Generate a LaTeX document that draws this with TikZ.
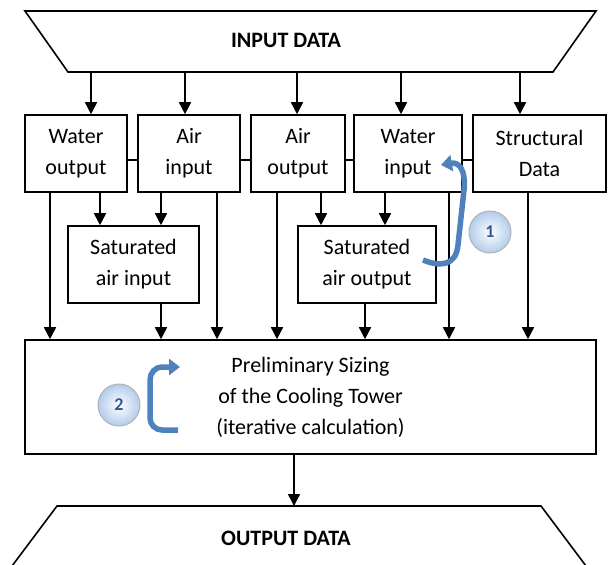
\documentclass[tikz,border=0pt]{standalone}
\usepackage{fontspec}
\setmainfont{Carlito}
\usetikzlibrary{arrows.meta}
\definecolor{loopblue}{RGB}{79,129,189}
\definecolor{numblue}{RGB}{50,88,148}
\tikzset{
    every node/.style={align=center, inner sep=0pt,
    	font=\fontsize{22}{31}\selectfont}
}
\tikzset{
    blk/.style={draw, line width=1.6pt, minimum height=77pt},
    arr/.style={line width=1.6pt, -{Triangle[width=12pt,length=12pt]}},
    loop arrow/.style={loopblue, line width=5.5pt, line cap=butt,
    	-{Triangle[width=16pt,length=11pt]}},
    marker/.style={circle, draw=gray!60, line width=1pt, minimum size=42pt,
    	inner color=white, outer color={rgb,255:red,178;green,204;blue,235},
    	text=numblue, font=\fontsize{18}{20}\selectfont\bfseries}
}

\begin{document}
\begin{tikzpicture}[x=1pt,y=-1pt]
  \useasboundingbox (0,0) rectangle (608,565);

  % input / output trapezia
  \draw[line width=1.6pt] (25,11) -- (596,11) -- (553,72) coordinate (inbr)
    -- (68,72) coordinate (inbl) -- cycle;
  \node (inp) at (286,40) {\bfseries INPUT DATA};

  \draw[line width=1.6pt] (12,566) -- (57,506) coordinate (outtl) -- (541,506)
    -- (586,566);
  \node (outp) at (286,538) {\bfseries OUTPUT DATA};

  % first row
  \node (wo) [blk, minimum width=102pt] at (76,153.5) {Water\\output};
  \node (ai) [blk, minimum width=102pt] at (189,153.5) {Air\\input};
  \node (ao) [blk, minimum width=94pt] at (298,153.5) {Air\\output};
  \node (wi) [blk, minimum width=108pt] at (408,153.5) {Water\\input};
  \node (sd) [blk, minimum width=133pt] at (539.5,153.5) {Structural\\Data};

  % saturated air
  \node (sai) [blk, minimum width=131pt] at (133.5,264.5) {Saturated\\air input};
  \node (sao) [blk, minimum width=138pt] at (367,264.5) {Saturated\\air output};

  % sizing
  \node (siz) [blk, minimum width=571pt, minimum height=114pt] at (310.5,397)
    {Preliminary Sizing\\of the Cooling Tower\\(iterative calculation)};

  \foreach \x/\n in {91/wo, 185/ai, 297/ao, 401/wi, 520/sd}
    \draw[arr] (inbl -| \x,0) -- (\n.north -| \x,0);

  \draw[line width=1.6pt] (wo.east |- 0,160) -- (ai.west |- 0,160);
  \draw[line width=1.6pt] (ai.east |- 0,160) -- (ao.west |- 0,160);
  \draw[line width=1.6pt] (ao.east |- 0,160) -- (wi.west |- 0,160);
  \draw[line width=1.6pt] (wi.east |- 0,160) -- (sd.west |- 0,160);

  \draw[arr] (wo.south -| 100,0) -- (sai.north -| 100,0);
  \draw[arr] (ai.south -| 161,0) -- (sai.north -| 161,0);
  \draw[arr] (ao.south -| 321,0) -- (sao.north -| 321,0);
  \draw[arr] (wi.south -| 385,0) -- (sao.north -| 385,0);

  \draw[arr] (wo.south -| 50,0) -- (siz.north -| 50,0);
  \draw[arr] (sai.south -| 161,0) -- (siz.north -| 161,0);
  \draw[arr] (ai.south -| 217,0) -- (siz.north -| 217,0);
  \draw[arr] (ao.south -| 277,0) -- (siz.north -| 277,0);
  \draw[arr] (sao.south -| 365,0) -- (siz.north -| 365,0);
  \draw[arr] (wi.south -| 449,0) -- (siz.north -| 449,0);
  \draw[arr] (sd.south -| 528,0) -- (siz.north -| 528,0);

  \draw[arr] (siz.south -| 294,0) -- (outtl -| 294,0);

  % iteration loops
  \coordinate (l1a) at (423,260);
  \coordinate (l1b) at (441,165);
  \draw[loop arrow] (l1a) .. controls (440,267) and (456,266) .. (458,245)
    -- (464,190) .. controls (466,168) and (458,162) .. (l1b);
  \node (m1) [marker] at (490,232) {1};

  \coordinate (l2a) at (178,430);
  \coordinate (l2b) at (180,367);
  \draw[loop arrow] (l2a) -- (162,430) to[out=180,in=-90] (150,418)
    -- (150,380) to[out=90,in=180] (162,367) -- (l2b);
  \node (m2) [marker] at (119,405) {2};
\end{tikzpicture}
\end{document}
